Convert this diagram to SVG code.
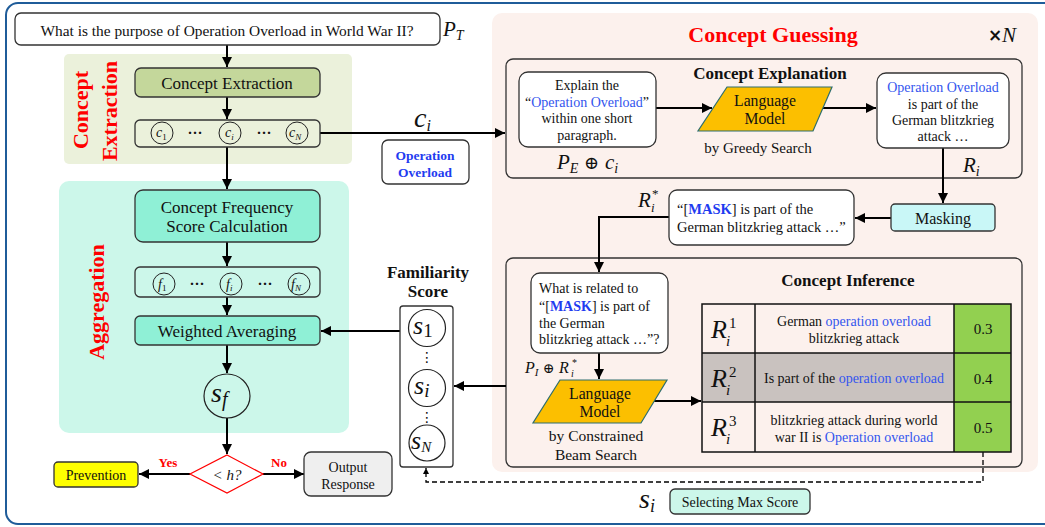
<svg xmlns="http://www.w3.org/2000/svg" width="1045" height="527" viewBox="0 0 1045 527">
<defs>
<style>
text{font-family:"Liberation Serif","DejaVu Serif",serif;fill:#111}
.c{text-anchor:middle;dominant-baseline:central}
.m{font-style:italic}
.bx{stroke:#333;stroke-width:1.3}
.ln{stroke:#000;stroke-width:2;fill:none}
.bl{fill:#3355ee}
.bb{fill:#1f3cf0;font-weight:bold}
.red{fill:#ff0000;font-weight:bold}
.vt{font-size:22px;text-anchor:middle}
.sym{font-style:normal;font-family:"DejaVu Serif",serif}
</style>
<marker id="ah" viewBox="0 0 10 10" refX="10" refY="5" markerWidth="11" markerHeight="10" markerUnits="userSpaceOnUse" orient="auto"><path d="M0,0 L10,5 L0,10 z" fill="#000"/></marker>
<marker id="ahs" viewBox="0 0 10 10" refX="10" refY="5" markerWidth="7" markerHeight="6" markerUnits="userSpaceOnUse" orient="auto"><path d="M0,0 L10,5 L0,10 z" fill="#000"/></marker>
</defs>
<rect x="0" y="0" width="1045" height="527" fill="#fff"/>
<rect x="6" y="3" width="1052" height="521" rx="12" fill="none" stroke="#1f5c99" stroke-width="2"/>

<g id="region-extraction">
<rect x="64" y="54" width="288" height="110" rx="5" fill="#ebf1db"/>
<text class="red vt" transform="translate(88,110) rotate(-90)">Concept</text>
<text class="red vt" transform="translate(117,111) rotate(-90)">Extraction</text>
</g>
<g id="region-aggregation">
<rect x="59" y="181" width="290" height="252" rx="10" fill="#ccf7ea"/>
<text class="red vt" transform="translate(104,302) rotate(-90)">Aggregation</text>
</g>
<g id="region-guessing">
<rect x="492" y="13" width="546" height="459" rx="10" fill="#fcf1ed"/>
<text x="773" y="42" text-anchor="middle" class="red" style="font-size:22px">Concept Guessing</text>
<text x="988" y="41" style="font-family:'DejaVu Sans',sans-serif;font-size:17px;font-weight:bold">×</text>
<text x="1002" y="42" class="m" style="font-size:21px">N</text>
</g>
<g id="concept-explanation">
<rect x="506" y="59" width="516" height="119" rx="7" fill="#fcf1ed" class="bx"/>
<text x="770" y="79" text-anchor="middle" style="font-size:17px;font-weight:bold">Concept Explanation</text>
<text x="758" y="153" text-anchor="middle" style="font-size:15px">by Greedy Search</text>
</g>
<g id="concept-inference">
<rect x="506" y="258" width="516" height="209" rx="7" fill="#fcf1ed" class="bx"/>
<text x="848" y="286" text-anchor="middle" style="font-size:17px;font-weight:bold">Concept Inference</text>
<text x="596" y="441" text-anchor="middle" style="font-size:15.5px">by Constrained</text>
<text x="596" y="460" text-anchor="middle" style="font-size:15.5px">Beam Search</text>
</g>

<g id="connectors">
<line class="ln" x1="227" y1="45" x2="227" y2="67" marker-end="url(#ah)"/>
<line class="ln" x1="227" y1="97" x2="227" y2="119" marker-end="url(#ah)"/>
<line class="ln" x1="227" y1="147" x2="227" y2="189" marker-end="url(#ah)"/>
<line class="ln" x1="227" y1="242" x2="227" y2="266" marker-end="url(#ah)"/>
<line class="ln" x1="227" y1="297" x2="227" y2="315" marker-end="url(#ah)"/>
<line class="ln" x1="227" y1="345" x2="227" y2="373" marker-end="url(#ah)"/>
<line class="ln" x1="227" y1="418" x2="227" y2="454" marker-end="url(#ah)"/>
<line class="ln" x1="190" y1="474" x2="139" y2="474" marker-end="url(#ah)"/>
<line class="ln" x1="263" y1="474" x2="304" y2="474" marker-end="url(#ah)"/>
<line class="ln" x1="320" y1="133" x2="505" y2="133" marker-end="url(#ah)"/>
<line class="ln" x1="656" y1="108" x2="712" y2="108" marker-end="url(#ah)"/>
<line class="ln" x1="822" y1="108" x2="876" y2="108" marker-end="url(#ah)"/>
<line class="ln" x1="943" y1="148" x2="943" y2="203" marker-end="url(#ah)"/>
<line class="ln" x1="891" y1="218" x2="855" y2="218" marker-end="url(#ah)"/>
<polyline class="ln" points="669,217 599,217 599,272" marker-end="url(#ah)"/>
<line class="ln" x1="599" y1="353" x2="599" y2="379" marker-end="url(#ah)"/>
<line class="ln" x1="654" y1="401" x2="701" y2="401" marker-end="url(#ah)"/>
<line class="ln" x1="506" y1="386" x2="454" y2="386" marker-end="url(#ah)"/>
<line class="ln" x1="400" y1="331" x2="321" y2="331" marker-end="url(#ah)"/>
<polyline points="983,452 983,482 426,482 426,468" fill="none" stroke="#000" stroke-width="1.3" stroke-dasharray="5,3" marker-end="url(#ahs)"/>
</g>

<g id="question">
<rect x="15" y="13" width="425" height="32" rx="6" fill="#fff" class="bx"/>
<text x="227" y="30" class="c" style="font-size:15.4px">What is the purpose of Operation Overload in World War II?</text>
<text x="443" y="36" class="m" style="font-size:21px">P<tspan dy="4" style="font-size:14px">T</tspan></text>
</g>
<g id="concept-extraction-box">
<rect x="135" y="68" width="185" height="29" rx="6" fill="#c4d79b" class="bx"/>
<text x="227" y="83" class="c" style="font-size:17px">Concept Extraction</text>
</g>
<g id="concepts">
<rect x="135" y="120" width="185" height="27" rx="5" fill="#ebf1db" class="bx"/>
<circle cx="162" cy="133" r="11" fill="none" stroke="#222" stroke-width="1"/>
<text x="156" y="137" class="m" style="font-size:14px">c<tspan dy="3" style="font-size:9px;font-style:normal">1</tspan></text>
<text x="195" y="133" class="c" style="font-size:15px;font-weight:bold">···</text>
<circle cx="230" cy="133" r="11" fill="none" stroke="#222" stroke-width="1"/>
<text x="225" y="137" class="m" style="font-size:14px">c<tspan dy="3" style="font-size:9px">i</tspan></text>
<text x="264" y="133" class="c" style="font-size:15px;font-weight:bold">···</text>
<circle cx="297" cy="133" r="11" fill="none" stroke="#222" stroke-width="1"/>
<text x="289" y="137" class="m" style="font-size:14px">c<tspan dy="3" style="font-size:9px">N</tspan></text>
</g>
<g id="ci-label">
<text x="414" y="127" class="m" style="font-size:28px">c<tspan dy="4" style="font-size:16px">i</tspan></text>
<rect x="382" y="140" width="87" height="44" rx="6" fill="#fff" class="bx"/>
<text x="425" y="155" class="c bb" style="font-size:13.5px">Operation</text>
<text x="425" y="172" class="c bb" style="font-size:13.5px">Overload</text>
</g>
<g id="frequency">
<rect x="135" y="190" width="185" height="52" rx="8" fill="#8ff0d6" class="bx"/>
<text x="227" y="207" class="c" style="font-size:17px">Concept Frequency</text>
<text x="227" y="226" class="c" style="font-size:17px">Score Calculation</text>
</g>
<g id="freqs">
<rect x="135" y="267" width="185" height="30" rx="5" fill="#ccf7ea" class="bx"/>
<circle cx="164" cy="284" r="11" fill="none" stroke="#222" stroke-width="1"/>
<text x="158" y="289" class="m" style="font-size:14px">f<tspan dy="2" style="font-size:9px;font-style:normal">1</tspan></text>
<text x="197" y="284" class="c" style="font-size:15px;font-weight:bold">···</text>
<circle cx="231" cy="284" r="11" fill="none" stroke="#222" stroke-width="1"/>
<text x="226" y="289" class="m" style="font-size:14px">f<tspan dy="2" style="font-size:9px">i</tspan></text>
<text x="265" y="284" class="c" style="font-size:15px;font-weight:bold">···</text>
<circle cx="299" cy="284" r="11" fill="none" stroke="#222" stroke-width="1"/>
<text x="291" y="289" class="m" style="font-size:14px">f<tspan dy="2" style="font-size:9px">N</tspan></text>
</g>
<g id="weighted">
<rect x="135" y="316" width="185" height="29" rx="5" fill="#8ff0d6" class="bx"/>
<text x="227" y="331" class="c" style="font-size:17px">Weighted Averaging</text>
</g>
<g id="sf">
<ellipse cx="227" cy="396" rx="23" ry="22" fill="none" stroke="#222" stroke-width="1.2"/>
<text x="211" y="402" class="m" style="font-size:28px">s<tspan dy="4" style="font-size:20px">f</tspan></text>
</g>
<g id="decision">
<polygon points="227,455 263,474 227,493 190,474" fill="#fff" stroke="#ff0000" stroke-width="1.2"/>
<text x="227" y="475" class="c m" style="font-size:15px">&lt; h?</text>
<text x="168" y="462" class="c red" style="font-size:13px">Yes</text>
<text x="279" y="462" class="c red" style="font-size:13px">No</text>
</g>
<g id="prevention">
<rect x="54" y="462" width="84" height="25" rx="4" fill="#ffff00" class="bx"/>
<text x="96" y="475" class="c" style="font-size:14px">Prevention</text>
</g>
<g id="output">
<rect x="304" y="452" width="88" height="44" rx="7" fill="#efefef" class="bx"/>
<text x="348" y="467" class="c" style="font-size:14px">Output</text>
<text x="348" y="484" class="c" style="font-size:14px">Response</text>
</g>
<g id="familiarity">
<text x="428" y="278" text-anchor="middle" style="font-size:17px;font-weight:bold">Familiarity</text>
<text x="428" y="297" text-anchor="middle" style="font-size:17px;font-weight:bold">Score</text>
<rect x="400" y="306" width="53" height="161" rx="3" fill="#fff" class="bx"/>
<circle cx="427" cy="328" r="18.5" fill="none" stroke="#222" stroke-width="1.2"/>
<text x="413" y="334" class="m" style="font-size:26px">s<tspan dy="3" style="font-size:19px;font-style:normal">1</tspan></text>
<text x="427" y="357" class="c" style="font-family:'DejaVu Sans',sans-serif;font-size:14px">⋮</text>
<circle cx="427" cy="388" r="18.5" fill="none" stroke="#222" stroke-width="1.2"/>
<text x="414" y="394" class="m" style="font-size:26px">s<tspan dy="3" style="font-size:19px">i</tspan></text>
<text x="427" y="417" class="c" style="font-family:'DejaVu Sans',sans-serif;font-size:14px">⋮</text>
<circle cx="427" cy="443" r="18" fill="none" stroke="#222" stroke-width="1.2"/>
<text x="411" y="449" class="m" style="font-size:26px">s<tspan dy="3" style="font-size:15px">N</tspan></text>
</g>
<g id="explain-prompt">
<rect x="519" y="72" width="137" height="75" rx="9" fill="#fff" class="bx"/>
<text x="587" y="85" class="c" style="font-size:14px">Explain the</text>
<text x="587" y="102" class="c" style="font-size:14px">“<tspan class="bl">Operation Overload</tspan>”</text>
<text x="587" y="118" class="c" style="font-size:14px">within one short</text>
<text x="587" y="135" class="c" style="font-size:14px">paragraph.</text>
<text x="557" y="169" class="m" style="font-size:21px">P<tspan dy="4" style="font-size:14px">E</tspan><tspan dy="-4" class="sym" style="font-size:18px"> ⊕ </tspan>c<tspan dy="4" style="font-size:14px">i</tspan></text>
</g>
<g id="lm1">
<polygon points="727,87 832,87 813,131 698,131" fill="#fcbf00" stroke="#2e6e6e" stroke-width="1.2"/>
<text x="765" y="100" class="c" style="font-size:15.7px">Language</text>
<text x="765" y="118" class="c" style="font-size:15.7px">Model</text>
</g>
<g id="explanation-output">
<rect x="877" y="73" width="132" height="75" rx="9" fill="#fff" class="bx"/>
<text x="943" y="87" class="c bl" style="font-size:14px">Operation Overload</text>
<text x="943" y="104" class="c" style="font-size:14px">is part of the</text>
<text x="943" y="120" class="c" style="font-size:14px">German blitzkrieg</text>
<text x="943" y="136" class="c" style="font-size:14px">attack …</text>
<text x="963" y="172" class="m" style="font-size:21px">R<tspan dy="4" style="font-size:14px">i</tspan></text>
</g>
<g id="masking">
<rect x="891" y="204" width="104" height="27" rx="4" fill="#c9f7f7" class="bx"/>
<text x="943" y="218" class="c" style="font-size:16px">Masking</text>
</g>
<g id="masked">
<rect x="669" y="190" width="185" height="55" rx="8" fill="#fff" class="bx"/>
<text x="677" y="209" style="font-size:14.5px;dominant-baseline:central">“[<tspan class="bb">MASK</tspan>] is part of the</text>
<text x="677" y="227" style="font-size:14.5px;dominant-baseline:central">German blitzkrieg attack …”</text>
<text x="638" y="207" class="m" style="font-size:21px">R</text>
<text x="651" y="212" class="m" style="font-size:13px">i</text>
<text x="652" y="198" style="font-size:13px">*</text>
</g>
<g id="inference-prompt">
<rect x="531" y="273" width="137" height="80" rx="9" fill="#fff" class="bx"/>
<text x="539" y="288" style="font-size:14px;dominant-baseline:central">What is related to</text>
<text x="539" y="306" style="font-size:14px;dominant-baseline:central">“[<tspan class="bb">MASK</tspan>] is part of</text>
<text x="539" y="323" style="font-size:14px;dominant-baseline:central">the German</text>
<text x="539" y="339" style="font-size:14px;dominant-baseline:central">blitzkrieg attack …”?</text>
<text x="525" y="373" class="m" style="font-size:16px">P<tspan dy="3" style="font-size:11px">I</tspan><tspan dy="-3" class="sym" style="font-size:14px"> ⊕ </tspan>R</text>
<text x="571" y="377" class="m" style="font-size:10px">i</text>
<text x="572" y="366" style="font-size:10px">*</text>
</g>
<g id="lm2">
<polygon points="560,380 667,380 641,423 533,423" fill="#fcbf00" stroke="#2e6e6e" stroke-width="1.2"/>
<text x="600" y="393" class="c" style="font-size:15.7px">Language</text>
<text x="600" y="411" class="c" style="font-size:15.7px">Model</text>
</g>
<g id="table">
<rect x="702" y="304" width="252" height="49" fill="#fcf1ed"/>
<rect x="702" y="353" width="252" height="49" fill="#c9c2bf"/>
<rect x="702" y="402" width="252" height="50" fill="#fcf1ed"/>
<rect x="954" y="304" width="57" height="148" fill="#92d050"/>
<g stroke="#111" stroke-width="1.5" fill="none">
<rect x="702" y="304" width="309" height="148"/>
<line x1="702" y1="353" x2="1011" y2="353"/>
<line x1="702" y1="402" x2="1011" y2="402"/>
<line x1="755" y1="304" x2="755" y2="452"/>
<line x1="954" y1="304" x2="954" y2="452"/>
</g>
<text x="711" y="338" class="m" style="font-size:26px">R</text>
<text x="726" y="346" class="m" style="font-size:15px">i</text>
<text x="729" y="328" style="font-size:15px">1</text>
<text x="711" y="387" class="m" style="font-size:26px">R</text>
<text x="726" y="395" class="m" style="font-size:15px">i</text>
<text x="729" y="377" style="font-size:15px">2</text>
<text x="711" y="436" class="m" style="font-size:26px">R</text>
<text x="726" y="444" class="m" style="font-size:15px">i</text>
<text x="729" y="426" style="font-size:15px">3</text>
<text x="854" y="321" class="c" style="font-size:14px">German <tspan class="bl">operation overload</tspan></text>
<text x="854" y="338" class="c" style="font-size:14px">blitzkrieg attack</text>
<text x="854" y="378" class="c" style="font-size:14px">Is part of the <tspan class="bl">operation overload</tspan></text>
<text x="854" y="420" class="c" style="font-size:14px">blitzkrieg attack during world</text>
<text x="854" y="437" class="c" style="font-size:14px">war II is <tspan class="bl">Operation overload</tspan></text>
<text x="983" y="329" class="c" style="font-size:15px">0.3</text>
<text x="983" y="379" class="c" style="font-size:15px">0.4</text>
<text x="983" y="428" class="c" style="font-size:15px">0.5</text>
</g>
<g id="select-max">
<text x="639" y="508" class="m" style="font-size:28px">s<tspan dy="4" style="font-size:18px">i</tspan></text>
<rect x="670" y="489" width="140" height="25" rx="5" fill="#ccf7ea" class="bx"/>
<text x="740" y="502" class="c" style="font-size:14px">Selecting Max Score</text>
</g>
</svg>
